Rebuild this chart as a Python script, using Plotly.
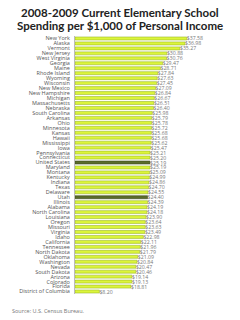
import plotly.graph_objects as go

states = ["New York", "Alaska", "Vermont", "New Jersey", "West Virginia", "Georgia", "Maine",
          "Rhode Island", "Wyoming", "Wisconsin", "New Mexico", "New Hampshire", "Michigan",
          "Massachusetts", "Nebraska", "South Carolina", "Arkansas", "Ohio", "Minnesota", "Kansas",
          "Hawaii", "Mississippi", "Iowa", "Pennsylvania", "Connecticut", "United States",
          "Maryland", "Montana", "Kentucky", "Indiana", "Texas", "Delaware", "Utah", "Illinois",
          "Alabama", "North Carolina", "Louisiana", "Oregon", "Missouri", "Virginia", "Idaho",
          "California", "Tennessee", "North Dakota", "Oklahoma", "Washington", "Nevada",
          "South Dakota", "Arizona", "Colorado", "Florida", "District of Columbia"]
spending = [37.58, 36.98, 35.27, 30.88, 30.76, 29.47, 28.71, 27.84, 27.63, 27.45, 27.09, 26.84,
            26.67, 26.51, 26.40, 25.98, 25.79, 25.78, 25.72, 25.68, 25.68, 25.62, 25.47, 25.21,
            25.20, 25.19, 25.19, 25.09, 24.99, 24.86, 24.70, 24.55, 24.40, 24.39, 24.19, 24.18,
            23.90, 23.64, 23.63, 23.49, 22.98, 22.11, 21.96, 21.79, 21.09, 20.84, 20.47, 20.46,
            19.14, 19.13, 18.81, 8.20]
highlighted = ["United States", "Utah"]
title_lines = ["2008-2009 Current Elementary School", "Spending per $1,000 of Personal Income"]
source_note = "Source: U.S. Census Bureau."

colors = ["#5a6b2b" if s in highlighted else "#dcf53a" for s in states]
lines = ["#3d4a1c" if s in highlighted else "#9cb82a" for s in states]

fig = go.Figure(go.Bar(
    x=spending, y=states, orientation="h",
    marker=dict(color=colors, line=dict(color=lines, width=0.6)),
    texttemplate="$%{x:.2f}", textposition="outside", cliponaxis=False,
    constraintext="none",
    textfont=dict(family="Open Sans", size=5.2, color="#777777"),
))

top, bottom = 35.5, 294.5
ph = bottom - top


def py(px):
    return (bottom - px) / ph


annotations = [
    dict(text=title_lines[0], xref="paper", yref="paper", x=45 / 119, y=py(12),
         xanchor="center", yanchor="middle", showarrow=False,
         font=dict(family="Lato", size=11.5, color="#222222", weight="bold")),
    dict(text=title_lines[1], xref="paper", yref="paper", x=45 / 119, y=py(25),
         xanchor="center", yanchor="middle", showarrow=False,
         font=dict(family="Lato", size=11.5, color="#222222", weight="bold")),
    dict(text=source_note, xref="paper", yref="paper",
         x=-65 / 119, y=py(312), xanchor="left", yanchor="middle", showarrow=False,
         font=dict(family="Open Sans", size=5.5, color="#777777")),
]

fig.update_layout(
    width=240, height=320,
    margin=dict(l=75, r=46, t=top, b=320 - bottom),
    paper_bgcolor="white", plot_bgcolor="white",
    bargap=0.4, showlegend=False,
    xaxis=dict(range=[0, 40], visible=False, fixedrange=True),
    yaxis=dict(categoryorder="array", categoryarray=states[::-1], autorange=False,
               range=[-0.5, len(states) - 0.5], tickmode="array", tickvals=states,
               tickfont=dict(family="Open Sans", size=5.5, color="#555555"),
               showline=True, linecolor="#bbbbbb", linewidth=1,
               ticks="outside", ticklen=3, tickcolor="white", showgrid=False),
    annotations=annotations,
)

fig.write_html("out.html")
